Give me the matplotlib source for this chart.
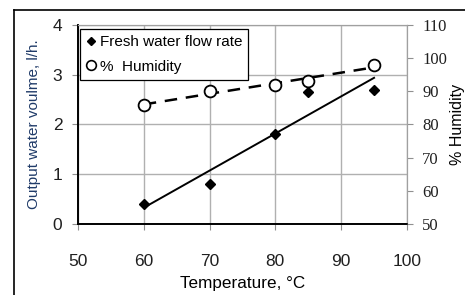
import matplotlib.pyplot as plt
import numpy as np
from matplotlib.lines import Line2D

# datos
temperatura = [60, 70, 80, 85, 95]
caudal = [0.4, 0.8, 1.8, 2.65, 2.7]
humedad = [86, 90, 92, 93, 98]

plt.rcParams['font.family'] = ['Liberation Sans', 'DejaVu Sans']

fig = plt.figure(figsize=(4.65, 2.95), dpi=100)
ax = fig.add_axes([0.1677, 0.2407, 0.7075, 0.6746])
ax2 = ax.twinx()

# tendencias lineales
p1 = np.polyfit(temperatura, caudal, 1)
p2 = np.polyfit(temperatura, humedad, 1)
xt = np.array([min(temperatura), max(temperatura)])

ax.plot(xt, np.polyval(p1, xt), color='black', lw=1.4, zorder=3)
ax.plot(temperatura, caudal, linestyle='none', marker='D', ms=5.5,
        color='black', zorder=4)
ax2.plot(xt, np.polyval(p2, xt), color='black', lw=1.8,
         dashes=(5, 3.5), zorder=3)
ax2.plot(temperatura, humedad, linestyle='none', marker='o', ms=8.5,
         mfc='white', mec='black', mew=1.3, zorder=4)

ax.set_xlim(50, 100)
ax.set_ylim(0, 4)
ax2.set_ylim(50, 110)
ax.set_xticks(range(50, 101, 10))
ax.set_yticks(range(0, 5))
ax2.set_yticks(range(50, 111, 10))

ax.grid(True, color='#b0b0b0', lw=1)
ax.set_axisbelow(True)

for a in (ax, ax2):
    a.spines['top'].set_color('#a0a0a0')
    a.spines['right'].set_color('#a0a0a0')
    a.spines['left'].set_color('black')
    a.spines['bottom'].set_color('black')
    a.spines['left'].set_linewidth(1.2)
    a.spines['bottom'].set_linewidth(1.2)

ax.tick_params(axis='both', direction='out', length=4.3, color='#909090',
               labelsize=12.5, labelcolor='#202020')
ax.tick_params(axis='y', pad=7)
ax.tick_params(axis='x', pad=17)
ax2.tick_params(axis='y', direction='out', length=4, color='#909090',
                labelsize=12, pad=7, labelcolor='#202020')
for lab in ax2.get_yticklabels():
    lab.set_fontfamily('Liberation Serif')

ax.set_xlabel("Temperature, °C", fontsize=12.3, labelpad=5)
ax.set_ylabel("Output water voulme, l/h.", fontsize=11, color='#1f3a68',
              labelpad=8)
ax2.set_ylabel("% Humidity", fontsize=11.5, labelpad=2)

handles = [Line2D([], [], linestyle='none', marker='D', ms=4.5, color='black'),
           Line2D([], [], linestyle='none', marker='o', ms=7, mfc='white',
                  mec='black', mew=1.2)]
leg = ax2.legend(handles, ["Fresh water flow rate", "%  Humidity"],
                 loc='upper left', bbox_to_anchor=(0.006, 0.98),
                 borderaxespad=0, fontsize=11, handlelength=0.6,
                 handletextpad=0.3, fancybox=False, framealpha=1,
                 edgecolor='black', borderpad=0.4, labelspacing=0.7)
leg.get_frame().set_linewidth(0.9)

# marco de la figura
fig.add_artist(Line2D([14 / 465, 1], [1 - 10 / 295, 1 - 10 / 295],
                      color='black', lw=1.2))
fig.add_artist(Line2D([14 / 465, 14 / 465], [0, 1 - 10 / 295],
                      color='black', lw=1.2))

fig.savefig('out.png', dpi=100)
